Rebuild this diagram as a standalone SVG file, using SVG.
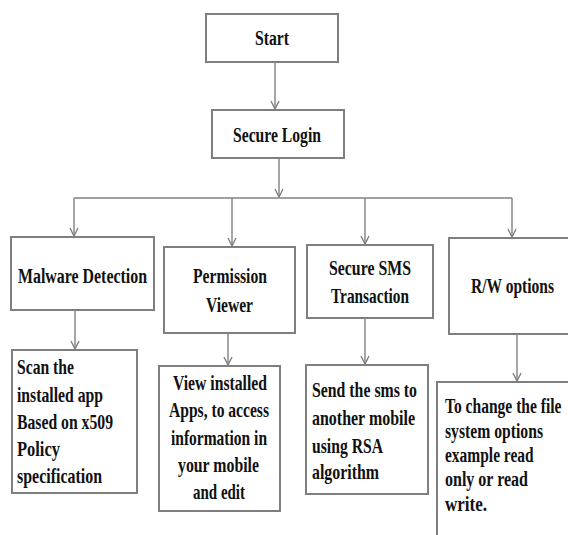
<svg xmlns="http://www.w3.org/2000/svg" width="568" height="535" viewBox="0 0 568 535">
<style>
.box{fill:#fff;stroke:#7f7f7f;stroke-width:2}
.ln{fill:none;stroke:#808080;stroke-width:1.4}
.t{font-family:"Liberation Serif","Times New Roman",serif;font-weight:bold;font-size:20px;fill:#111}
.b{font-size:21px}
.m{text-anchor:middle}
</style>
<defs>
<marker id="ar" viewBox="0 0 10 10" refX="9" refY="5" markerWidth="10" markerHeight="10" markerUnits="userSpaceOnUse" orient="auto">
<path d="M1,1 L9,5 L1,9" fill="none" stroke="#808080" stroke-width="1.4"/>
</marker>
</defs>
<rect width="568" height="535" fill="#fff"/>
<g id="connectors">
<line class="ln" x1="275" y1="62" x2="275" y2="109" marker-end="url(#ar)"/>
<line class="ln" x1="279" y1="158" x2="279" y2="197" marker-end="url(#ar)"/>
<path class="ln" d="M74,198 H512"/>
<line class="ln" x1="74" y1="198" x2="74" y2="236" marker-end="url(#ar)"/>
<line class="ln" x1="232" y1="198" x2="232" y2="246" marker-end="url(#ar)"/>
<line class="ln" x1="365" y1="198" x2="365" y2="244" marker-end="url(#ar)"/>
<line class="ln" x1="512" y1="198" x2="512" y2="237" marker-end="url(#ar)"/>
<line class="ln" x1="75" y1="310" x2="75" y2="349" marker-end="url(#ar)"/>
<line class="ln" x1="228" y1="333" x2="228" y2="365" marker-end="url(#ar)"/>
<line class="ln" x1="365" y1="318" x2="365" y2="364" marker-end="url(#ar)"/>
<line class="ln" x1="517" y1="334" x2="517" y2="381" marker-end="url(#ar)"/>
</g>
<g id="start">
<rect class="box" x="206" y="14" width="132" height="48"/>
<text class="t m" x="272" y="45" textLength="34" lengthAdjust="spacingAndGlyphs">Start</text>
</g>
<g id="login">
<rect class="box" x="212" y="110" width="132" height="48"/>
<text class="t m" x="277" y="142" textLength="88" lengthAdjust="spacingAndGlyphs">Secure Login</text>
</g>
<g id="malware">
<rect class="box" x="11" y="237" width="143" height="73"/>
<text class="t m" x="82.5" y="283" textLength="129" lengthAdjust="spacingAndGlyphs">Malware Detection</text>
</g>
<g id="permission">
<rect class="box" x="164" y="247" width="131" height="86"/>
<text class="t m" x="230" y="283" textLength="74" lengthAdjust="spacingAndGlyphs">Permission</text>
<text class="t m" x="229.5" y="312" textLength="47" lengthAdjust="spacingAndGlyphs">Viewer</text>
</g>
<g id="sms">
<rect class="box" x="307" y="245" width="126" height="73"/>
<text class="t m" x="370" y="275" textLength="82" lengthAdjust="spacingAndGlyphs">Secure SMS</text>
<text class="t m" x="370" y="303" textLength="78" lengthAdjust="spacingAndGlyphs">Transaction</text>
</g>
<g id="rw">
<rect class="box" x="449" y="238" width="130" height="96"/>
<text class="t m" transform="translate(512.5,293) scale(0.776,1)">R/W options</text>
</g>
<g id="scan">
<rect class="box" x="12" y="350" width="125" height="143"/>
<text class="t b" x="17" y="374" textLength="57" lengthAdjust="spacingAndGlyphs">Scan the</text>
<text class="t b" x="17" y="402" textLength="86" lengthAdjust="spacingAndGlyphs">installed app</text>
<text class="t b" x="17" y="429" textLength="96" lengthAdjust="spacingAndGlyphs">Based on x509</text>
<text class="t b" x="17" y="456" textLength="43" lengthAdjust="spacingAndGlyphs">Policy</text>
<text class="t b" x="17" y="483" textLength="85" lengthAdjust="spacingAndGlyphs">specification</text>
</g>
<g id="view">
<rect class="box" x="159" y="366" width="121" height="145"/>
<text class="t b m" x="220" y="390" textLength="94" lengthAdjust="spacingAndGlyphs">View installed</text>
<text class="t b m" x="219" y="417" textLength="100" lengthAdjust="spacingAndGlyphs">Apps, to access</text>
<text class="t b m" x="219" y="445" textLength="96" lengthAdjust="spacingAndGlyphs">information in</text>
<text class="t b m" x="218.5" y="472" textLength="81" lengthAdjust="spacingAndGlyphs">your mobile</text>
<text class="t b m" x="219" y="499" textLength="52" lengthAdjust="spacingAndGlyphs">and edit</text>
</g>
<g id="send">
<rect class="box" x="306" y="365" width="122" height="129"/>
<text class="t b" x="312" y="397" textLength="105" lengthAdjust="spacingAndGlyphs">Send the sms to</text>
<text class="t b" x="312" y="425" textLength="103" lengthAdjust="spacingAndGlyphs">another mobile</text>
<text class="t b" x="312" y="453" textLength="71" lengthAdjust="spacingAndGlyphs">using RSA</text>
<text class="t b" x="312" y="479" textLength="67" lengthAdjust="spacingAndGlyphs">algorithm</text>
</g>
<g id="change">
<path class="box" d="M437,540 V382 H580" fill="none"/>
<text class="t" transform="translate(445,413) scale(0.778,1)">To change the file</text>
<text class="t" transform="translate(445,438) scale(0.784,1)">system options</text>
<text class="t" transform="translate(445,462) scale(0.774,1)">example read</text>
<text class="t" transform="translate(445,486) scale(0.8,1)">only or read</text>
<text class="t" transform="translate(445,511) scale(0.85,1)">write.</text>
</g>
</svg>
